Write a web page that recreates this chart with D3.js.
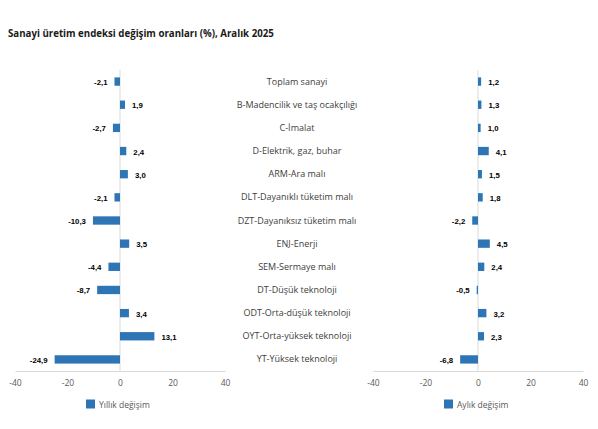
<!DOCTYPE html>
<html>
<head>
<meta charset="utf-8">
<script src="https://cdn.jsdelivr.net/npm/d3@7"></script>
<style>
  body { margin: 0; background: #fff; }
  svg { display: block; }
</style>
</head>
<body>
<svg id="chart" width="598" height="429"></svg>
<script>
// categories and values
var categories = [
  "Toplam sanayi",
  "B-Madencilik ve taş ocakçılığı",
  "C-İmalat",
  "D-Elektrik, gaz, buhar",
  "ARM-Ara malı",
  "DLT-Dayanıklı tüketim malı",
  "DZT-Dayanıksız tüketim malı",
  "ENJ-Enerji",
  "SEM-Sermaye malı",
  "DT-Düşük teknoloji",
  "ODT-Orta-düşük teknoloji",
  "OYT-Orta-yüksek teknoloji",
  "YT-Yüksek teknoloji"
];
var yillik = [-2.1, 1.9, -2.7, 2.4, 3.0, -2.1, -10.3, 3.5, -4.4, -8.7, 3.4, 13.1, -24.9];
var aylik = [1.2, 1.3, 1.0, 4.1, 1.5, 1.8, -2.2, 4.5, 2.4, -0.5, 3.2, 2.3, -6.8];
var ticks = [-40, -20, 0, 20, 40];

var barColor = "#2e75b6";
var svg = d3.select("#chart");

svg.append("text")
  .attr("x", 8).attr("y", 37)
  .attr("font-family", "'Open Sans', sans-serif")
  .attr("font-size", 9.7).attr("font-weight", "bold")
  .attr("fill", "#1a1a1a")
  .text("Sanayi üretim endeksi değişim oranları (%), Aralık 2025");

var y = d3.scaleBand()
  .domain(categories)
  .range([70, 371])
  .paddingInner(0.64)
  .paddingOuter(0.32);

var fmt = function(v) { return v.toFixed(1).replace(".", ","); };

// draws one of the two panels
function panel(values, x0, x1, legendText, legendX) {
  var x = d3.scaleLinear().domain([-40, 40]).range([x0, x1]);
  var g = svg.append("g");

  // zero line
  g.append("line")
    .attr("x1", x(0)).attr("x2", x(0))
    .attr("y1", 70).attr("y2", 371)
    .attr("stroke", "#d9d9d9");

  // bottom axis, plain hyphen for negatives
  var axis = g.append("g")
    .attr("transform", "translate(0,371)")
    .call(d3.axisBottom(x).tickValues(ticks).tickSize(0).tickPadding(9)
      .tickFormat(function(d) { return String(d); }));
  axis.select(".domain").attr("stroke", "#d9d9d9");
  axis.selectAll("text")
    .attr("font-family", "'Open Sans', sans-serif")
    .attr("font-size", 8.5)
    .attr("fill", "#595959");

  g.selectAll("rect.bar")
    .data(values)
    .enter()
    .append("rect")
    .attr("class", "bar")
    .attr("x", function(d) { return x(Math.min(0, d)); })
    .attr("width", function(d) { return Math.abs(x(d) - x(0)); })
    .attr("y", function(d, i) { return y(categories[i]); })
    .attr("height", y.bandwidth())
    .attr("fill", barColor);

  g.selectAll("text.val")
    .data(values)
    .enter()
    .append("text")
    .attr("class", "val")
    .attr("x", function(d) { return d < 0 ? x(d) - 7 : x(d) + 7; })
    .attr("y", function(d, i) { return y(categories[i]) + y.bandwidth() / 2 + 3.5; })
    .attr("text-anchor", function(d) { return d < 0 ? "end" : "start"; })
    .attr("font-family", "'Liberation Sans', Arial, sans-serif")
    .attr("font-size", 7.8)
    .attr("font-weight", "bold")
    .attr("fill", "#000")
    .text(function(d) { return fmt(d); });

  // legend
  g.append("rect")
    .attr("x", legendX).attr("y", 399.5)
    .attr("width", 9).attr("height", 9)
    .attr("fill", barColor);
  g.append("text")
    .attr("x", legendX + 13).attr("y", 407.5)
    .attr("font-family", "'Open Sans', sans-serif")
    .attr("font-size", 8.5)
    .attr("fill", "#595959")
    .text(legendText);
}

panel(yillik, 15, 225, "Yıllık değişim", 86);
panel(aylik, 373, 583, "Aylık değişim", 444);

// category labels in the middle
svg.selectAll("text.cat")
  .data(categories)
  .enter()
  .append("text")
  .attr("class", "cat")
  .attr("x", 297)
  .attr("y", function(d) { return y(d) + y.bandwidth() / 2 + 3; })
  .attr("text-anchor", "middle")
  .attr("font-family", "'Open Sans', sans-serif")
  .attr("font-size", 9)
  .attr("fill", "#404040")
  .text(function(d) { return d; });
</script>
</body>
</html>
